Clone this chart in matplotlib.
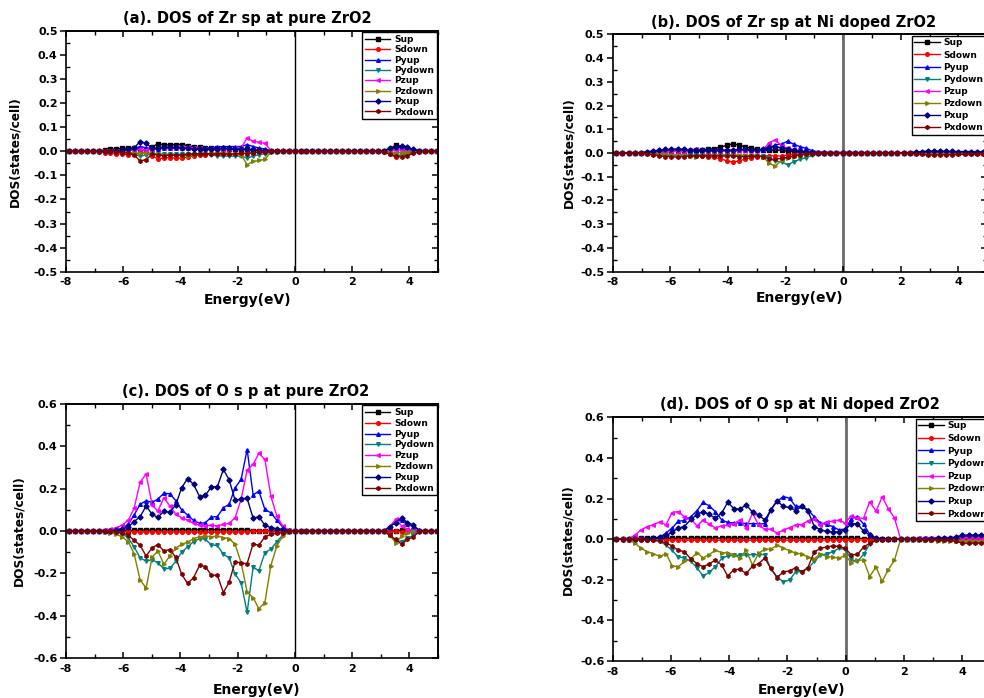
import matplotlib
matplotlib.use("Agg")
import matplotlib.pyplot as plt
from matplotlib.ticker import MultipleLocator, FormatStrFormatter

plt.rcParams['font.family'] = ['DejaVu Sans']
plt.rcParams['font.weight'] = 'bold'
plt.rcParams['axes.unicode_minus'] = False

# ---------------- energy grids (eV) ----------------
energy_pure = [-7.90, -7.69, -7.48, -7.28, -7.07, -6.86, -6.65, -6.45, -6.24, -6.03,
               -5.82, -5.62, -5.41, -5.20, -4.99, -4.79, -4.58, -4.37, -4.16, -3.96,
               -3.75, -3.54, -3.33, -3.13, -2.92, -2.71, -2.50, -2.30, -2.09, -1.88,
               -1.67, -1.46, -1.26, -1.05, -0.84, -0.63, -0.43, -0.22, -0.01, 0.20,
               0.40, 0.61, 0.82, 1.03, 1.23, 1.44, 1.65, 1.86, 2.06, 2.27,
               2.48, 2.69, 2.90, 3.10, 3.31, 3.52, 3.73, 3.93, 4.14, 4.35,
               4.56, 4.76, 4.97]
energy_doped = [-8.08, -7.87, -7.66, -7.44, -7.23, -7.02, -6.81, -6.60, -6.38, -6.17,
                -5.96, -5.75, -5.54, -5.32, -5.11, -4.90, -4.69, -4.48, -4.26, -4.05,
                -3.84, -3.63, -3.42, -3.20, -2.99, -2.78, -2.57, -2.36, -2.14, -1.93,
                -1.72, -1.51, -1.30, -1.08, -0.87, -0.66, -0.45, -0.24, -0.02, 0.19,
                0.40, 0.61, 0.82, 1.04, 1.25, 1.46, 1.67, 1.88, 2.10, 2.31,
                2.52, 2.73, 2.94, 3.16, 3.37, 3.58, 3.79, 4.00, 4.22, 4.43,
                4.64, 4.85, 5.06]

# ---------------- (a) Zr sp, pure ZrO2 ----------------
sup_a = [0, 0, 0, 0, 0, 0.002, 0.005, 0.008, 0.010, 0.012,
         0.014, 0.012, 0.008, 0.006, 0.020, 0.030, 0.028, 0.026, 0.028, 0.028,
         0.024, 0.018, 0.016, 0.014, 0.012, 0.012, 0.010, 0.010, 0.010, 0.008,
         0.008, 0.006, 0.004, 0.002, 0, 0, 0, 0, 0, 0,
         0, 0, 0, 0, 0, 0, 0, 0, 0, 0,
         0, 0, 0, 0.002, 0.010, 0.025, 0.015, 0.008, 0.003, 0,
         0, 0, 0]
sdown_a = [0, 0, 0, 0, 0, -0.002, -0.005, -0.008, -0.010, -0.012,
           -0.014, -0.012, -0.008, -0.006, -0.020, -0.030, -0.028, -0.026, -0.028, -0.028,
           -0.024, -0.018, -0.016, -0.014, -0.012, -0.012, -0.010, -0.010, -0.010, -0.008,
           -0.008, -0.006, -0.004, -0.002, 0, 0, 0, 0, 0, 0,
           0, 0, 0, 0, 0, 0, 0, 0, 0, 0,
           0, 0, 0, -0.002, -0.010, -0.025, -0.015, -0.008, -0.003, 0,
           0, 0, 0]
pyup_a = [0, 0, 0, 0, 0, 0, 0, 0, 0.002, 0.004,
          0.008, 0.012, 0.020, 0.015, 0.008, 0.010, 0.012, 0.012, 0.012, 0.012,
          0.012, 0.012, 0.010, 0.012, 0.015, 0.018, 0.020, 0.020, 0.020, 0.020,
          0.028, 0.020, 0.014, 0.010, 0.003, 0.001, 0, 0, 0, 0,
          0, 0, 0, 0, 0, 0, 0, 0, 0, 0,
          0, 0, 0, 0.002, 0.008, 0.012, 0.018, 0.012, 0.006, 0.002,
          0, 0, 0]
pydown_a = [0, 0, 0, 0, 0, 0, 0, 0, -0.002, -0.004,
            -0.008, -0.012, -0.020, -0.015, -0.008, -0.010, -0.012, -0.012, -0.012, -0.012,
            -0.012, -0.012, -0.010, -0.012, -0.015, -0.018, -0.020, -0.020, -0.020, -0.020,
            -0.028, -0.020, -0.014, -0.010, -0.003, -0.001, 0, 0, 0, 0,
            0, 0, 0, 0, 0, 0, 0, 0, 0, 0,
            0, 0, 0, -0.002, -0.008, -0.012, -0.018, -0.012, -0.006, -0.002,
            0, 0, 0]
pzup_a = [0, 0, 0, 0, 0, 0, 0, 0, 0, 0.002,
          0.004, 0.006, 0.008, 0.006, 0.008, 0.012, 0.014, 0.014, 0.016, 0.018,
          0.018, 0.015, 0.012, 0.010, 0.008, 0.006, 0.006, 0.008, 0.012, 0.015,
          0.055, 0.042, 0.038, 0.033, 0.003, 0.001, 0, 0, 0, 0,
          0, 0, 0, 0, 0, 0, 0, 0, 0, 0,
          0, 0, 0, 0, 0.003, 0.006, 0.005, 0.002, 0, 0,
          0, 0, 0]
pzdown_a = [0, 0, 0, 0, 0, 0, 0, 0, 0, -0.002,
            -0.004, -0.006, -0.008, -0.006, -0.008, -0.012, -0.014, -0.014, -0.016, -0.018,
            -0.018, -0.015, -0.012, -0.010, -0.008, -0.006, -0.006, -0.008, -0.012, -0.015,
            -0.055, -0.042, -0.038, -0.033, -0.003, -0.001, 0, 0, 0, 0,
            0, 0, 0, 0, 0, 0, 0, 0, 0, 0,
            0, 0, 0, 0, -0.003, -0.006, -0.005, -0.002, 0, 0,
            0, 0, 0]
pxup_a = [0, 0, 0, 0, 0, 0, 0, 0, 0.002, 0.005,
          0.008, 0.015, 0.040, 0.034, 0.012, 0.015, 0.018, 0.016, 0.016, 0.015,
          0.012, 0.010, 0.010, 0.010, 0.010, 0.010, 0.012, 0.012, 0.010, 0.008,
          0.010, 0.006, 0.004, 0.002, 0, 0, 0, 0, 0, 0,
          0, 0, 0, 0, 0, 0, 0, 0, 0, 0,
          0, 0, 0, 0.003, 0.012, 0.020, 0.024, 0.018, 0.008, 0.002,
          0, 0, 0]
pxdown_a = [0, 0, 0, 0, 0, 0, 0, 0, -0.002, -0.005,
            -0.008, -0.015, -0.040, -0.034, -0.012, -0.015, -0.018, -0.016, -0.016, -0.015,
            -0.012, -0.010, -0.010, -0.010, -0.010, -0.010, -0.012, -0.012, -0.010, -0.008,
            -0.010, -0.006, -0.004, -0.002, 0, 0, 0, 0, 0, 0,
            0, 0, 0, 0, 0, 0, 0, 0, 0, 0,
            0, 0, 0, -0.003, -0.012, -0.020, -0.024, -0.018, -0.008, -0.002,
            0, 0, 0]

# ---------------- (b) Zr sp, Ni doped ZrO2 ----------------
sup_b = [0, 0, 0, 0, 0, 0, 0, 0.003, 0.005, 0.006,
         0.008, 0.010, 0.010, 0.010, 0.012, 0.013, 0.015, 0.018, 0.025, 0.032,
         0.038, 0.034, 0.026, 0.020, 0.015, 0.012, 0.012, 0.013, 0.012, 0.008,
         0.006, 0.004, 0.003, 0.002, 0, 0, 0, 0, 0, 0,
         0, 0, 0, 0, 0, 0, 0, 0, 0, 0,
         0, 0, 0.002, 0.002, 0.002, 0.002, 0.002, 0.002, 0.002, 0.002,
         0.002, 0, 0]
sdown_b = [0, 0, 0, 0, 0, 0, 0, -0.003, -0.005, -0.006,
           -0.008, -0.010, -0.010, -0.010, -0.012, -0.013, -0.015, -0.018, -0.025, -0.032,
           -0.038, -0.034, -0.026, -0.020, -0.015, -0.012, -0.012, -0.013, -0.012, -0.008,
           -0.006, -0.004, -0.003, -0.002, 0, 0, 0, 0, 0, 0,
           0, 0, 0, 0, 0, 0, 0, 0, 0, 0,
           0, 0, -0.002, -0.002, -0.002, -0.002, -0.002, -0.002, -0.002, -0.002,
           -0.002, 0, 0]
pyup_b = [0, 0, 0, 0, 0, 0, 0.003, 0.005, 0.008, 0.010,
          0.012, 0.012, 0.010, 0.010, 0.008, 0.008, 0.008, 0.008, 0.008, 0.010,
          0.010, 0.012, 0.012, 0.012, 0.012, 0.012, 0.020, 0.035, 0.037, 0.050,
          0.037, 0.027, 0.020, 0.010, 0.005, 0.003, 0.002, 0.002, 0.003, 0.003,
          0.002, 0.001, 0, 0, 0, 0, 0, 0, 0, 0,
          0.001, 0.002, 0.003, 0.003, 0.003, 0.003, 0.003, 0.003, 0.003, 0.003,
          0.003, 0.003, 0.003]
pydown_b = [0, 0, 0, 0, 0, 0, -0.003, -0.005, -0.008, -0.010,
            -0.012, -0.012, -0.010, -0.010, -0.008, -0.008, -0.008, -0.008, -0.008, -0.010,
            -0.010, -0.012, -0.012, -0.012, -0.012, -0.012, -0.020, -0.035, -0.037, -0.050,
            -0.037, -0.027, -0.020, -0.010, -0.005, -0.003, -0.002, -0.002, -0.003, -0.003,
            -0.002, -0.001, 0, 0, 0, 0, 0, 0, 0, 0,
            -0.001, -0.002, -0.003, -0.003, -0.003, -0.003, -0.003, -0.003, -0.003, -0.003,
            -0.003, -0.003, -0.003]
pzup_b = [0, 0, 0, 0, 0, 0, 0, 0, 0.003, 0.005,
          0.008, 0.008, 0.008, 0.012, 0.017, 0.010, 0.008, 0.007, 0.007, 0.008,
          0.008, 0.008, 0.010, 0.010, 0.008, 0.015, 0.044, 0.055, 0.030, 0.020,
          0.015, 0.010, 0.005, 0.003, 0.002, 0, 0, 0, 0, 0,
          0, 0, 0, 0, 0, 0, 0, 0, 0, 0,
          0.002, 0.002, 0.002, 0.002, 0.002, 0.002, 0.002, 0.002, 0.002, 0.002,
          0.002, 0.002, 0.002]
pzdown_b = [0, 0, 0, 0, 0, 0, 0, 0, -0.003, -0.005,
            -0.008, -0.008, -0.008, -0.012, -0.017, -0.010, -0.008, -0.007, -0.007, -0.008,
            -0.008, -0.008, -0.010, -0.010, -0.008, -0.015, -0.044, -0.055, -0.030, -0.020,
            -0.015, -0.010, -0.005, -0.003, -0.002, 0, 0, 0, 0, 0,
            0, 0, 0, 0, 0, 0, 0, 0, 0, 0,
            -0.002, -0.002, -0.002, -0.002, -0.002, -0.002, -0.002, -0.002, -0.002, -0.002,
            -0.002, -0.002, -0.002]
pxup_b = [0, 0, 0, 0, 0, 0.002, 0.005, 0.008, 0.012, 0.015,
          0.015, 0.018, 0.015, 0.012, 0.012, 0.012, 0.012, 0.012, 0.014, 0.012,
          0.012, 0.015, 0.015, 0.014, 0.014, 0.015, 0.025, 0.027, 0.022, 0.018,
          0.012, 0.008, 0.005, 0.003, 0.002, 0, 0, 0, 0, 0,
          0, 0, 0, 0, 0, 0, 0, 0, 0, 0.002,
          0.004, 0.006, 0.008, 0.008, 0.008, 0.007, 0.007, 0.006, 0.006, 0.006,
          0.005, 0.005, 0.005]
pxdown_b = [0, 0, 0, 0, 0, -0.002, -0.005, -0.008, -0.012, -0.015,
            -0.015, -0.018, -0.015, -0.012, -0.012, -0.012, -0.012, -0.012, -0.014, -0.012,
            -0.012, -0.015, -0.015, -0.014, -0.014, -0.015, -0.025, -0.027, -0.022, -0.018,
            -0.012, -0.008, -0.005, -0.003, -0.002, 0, 0, 0, 0, 0,
            0, 0, 0, 0, 0, 0, 0, 0, 0, -0.002,
            -0.004, -0.006, -0.008, -0.008, -0.008, -0.007, -0.007, -0.006, -0.006, -0.006,
            -0.005, -0.005, -0.005]

# ---------------- (c) O sp, pure ZrO2 ----------------
sup_c = [0, 0, 0, 0, 0, 0, 0, 0, 0, 0.001,
         0.002, 0.003, 0.004, 0.004, 0.004, 0.004, 0.005, 0.005, 0.005, 0.005,
         0.005, 0.005, 0.006, 0.006, 0.006, 0.006, 0.005, 0.005, 0.005, 0.005,
         0.004, 0.002, 0.001, 0, 0, 0, 0, 0, 0, 0,
         0, 0, 0, 0, 0, 0, 0, 0, 0, 0,
         0, 0, 0, 0, 0, 0.002, 0.003, 0.001, 0, 0,
         0, 0, 0]
sdown_c = [0, 0, 0, 0, 0, 0, 0, 0, 0, -0.001,
           -0.002, -0.003, -0.004, -0.004, -0.004, -0.004, -0.005, -0.005, -0.005, -0.005,
           -0.005, -0.005, -0.006, -0.006, -0.006, -0.006, -0.005, -0.005, -0.005, -0.005,
           -0.004, -0.002, -0.001, 0, 0, 0, 0, 0, 0, 0,
           0, 0, 0, 0, 0, 0, 0, 0, 0, 0,
           0, 0, 0, 0, 0, -0.002, -0.003, -0.001, 0, 0,
           0, 0, 0]
pyup_c = [0, 0, 0, 0, 0, 0, 0, 0.003, 0.006, 0.013,
          0.033, 0.075, 0.126, 0.143, 0.135, 0.151, 0.178, 0.176, 0.143, 0.100,
          0.075, 0.050, 0.036, 0.039, 0.066, 0.068, 0.110, 0.126, 0.204, 0.244,
          0.385, 0.170, 0.189, 0.102, 0.086, 0.050, 0.020, 0.004, 0, 0,
          0, 0, 0, 0, 0, 0, 0, 0, 0, 0,
          0, 0, 0, 0, 0.018, 0.045, 0.050, 0.035, 0.020, 0.003,
          0, 0, 0]
pydown_c = [0, 0, 0, 0, 0, 0, 0, -0.003, -0.006, -0.013,
            -0.033, -0.075, -0.126, -0.143, -0.135, -0.151, -0.178, -0.176, -0.143, -0.100,
            -0.075, -0.050, -0.036, -0.039, -0.066, -0.068, -0.110, -0.126, -0.204, -0.244,
            -0.385, -0.170, -0.189, -0.102, -0.086, -0.050, -0.020, -0.004, 0, 0,
            0, 0, 0, 0, 0, 0, 0, 0, 0, 0,
            0, 0, 0, 0, -0.018, -0.045, -0.050, -0.035, -0.020, -0.003,
            0, 0, 0]
pzup_c = [0, 0, 0, 0, 0, 0.002, 0.005, 0.008, 0.016, 0.028,
          0.052, 0.107, 0.231, 0.269, 0.123, 0.094, 0.157, 0.118, 0.080, 0.063,
          0.052, 0.036, 0.027, 0.024, 0.027, 0.024, 0.031, 0.036, 0.063, 0.150,
          0.288, 0.315, 0.367, 0.338, 0.163, 0.070, 0.025, 0.004, 0, 0,
          0, 0, 0, 0, 0, 0, 0, 0, 0, 0,
          0, 0, 0, 0, 0.020, 0.055, 0.025, 0.008, 0.002, 0,
          0, 0, 0]
pzdown_c = [0, 0, 0, 0, 0, -0.002, -0.005, -0.008, -0.016, -0.028,
            -0.052, -0.107, -0.231, -0.269, -0.123, -0.094, -0.157, -0.118, -0.080, -0.063,
            -0.052, -0.036, -0.027, -0.024, -0.027, -0.024, -0.031, -0.036, -0.063, -0.150,
            -0.288, -0.315, -0.367, -0.338, -0.163, -0.070, -0.025, -0.004, 0, 0,
            0, 0, 0, 0, 0, 0, 0, 0, 0, 0,
            0, 0, 0, 0, -0.020, -0.055, -0.025, -0.008, -0.002, 0,
            0, 0, 0]
pxup_c = [0, 0, 0, 0, 0, 0, 0, 0, 0.003, 0.008,
          0.020, 0.044, 0.068, 0.118, 0.079, 0.064, 0.094, 0.088, 0.125, 0.204,
          0.248, 0.220, 0.162, 0.168, 0.209, 0.209, 0.291, 0.242, 0.145, 0.152,
          0.154, 0.060, 0.068, 0.027, 0.016, 0.011, 0.008, 0.002, 0, 0,
          0, 0, 0, 0, 0, 0, 0, 0, 0, 0,
          0, 0, 0, 0, 0.020, 0.040, 0.063, 0.040, 0.028, 0.002,
          0, 0, 0]
pxdown_c = [0, 0, 0, 0, 0, 0, 0, 0, -0.003, -0.008,
            -0.020, -0.044, -0.068, -0.118, -0.079, -0.064, -0.094, -0.088, -0.125, -0.204,
            -0.248, -0.220, -0.162, -0.168, -0.209, -0.209, -0.291, -0.242, -0.145, -0.152,
            -0.154, -0.060, -0.068, -0.027, -0.016, -0.011, -0.008, -0.002, 0, 0,
            0, 0, 0, 0, 0, 0, 0, 0, 0, 0,
            0, 0, 0, 0, -0.020, -0.040, -0.063, -0.040, -0.028, -0.002,
            0, 0, 0]

# ---------------- (d) O sp, Ni doped ZrO2 ----------------
sup_d = [0, 0, 0.002, 0.003, 0.004, 0.004, 0.004, 0.004, 0.004, 0.004,
         0.004, 0.004, 0.004, 0.005, 0.005, 0.005, 0.005, 0.005, 0.005, 0.005,
         0.005, 0.005, 0.005, 0.005, 0.005, 0.005, 0.005, 0.005, 0.005, 0.005,
         0.005, 0.005, 0.005, 0.004, 0.004, 0.004, 0.004, 0.004, 0.004, 0.004,
         0.004, 0.003, 0.002, 0.001, 0, 0, 0, 0, 0, 0,
         0, 0, 0, 0, 0, 0, 0, 0, 0, 0,
         0, 0, 0]
sdown_d = [0, 0, -0.002, -0.003, -0.004, -0.004, -0.004, -0.004, -0.004, -0.004,
           -0.004, -0.004, -0.004, -0.005, -0.005, -0.005, -0.005, -0.005, -0.005, -0.005,
           -0.005, -0.005, -0.005, -0.005, -0.005, -0.005, -0.005, -0.005, -0.005, -0.005,
           -0.005, -0.005, -0.005, -0.004, -0.004, -0.004, -0.004, -0.004, -0.004, -0.004,
           -0.004, -0.003, -0.002, -0.001, 0, 0, 0, 0, 0, 0,
           0, 0, 0, 0, 0, 0, 0, 0, 0, 0,
           0, 0, 0]
pyup_d = [0, 0, 0, 0, 0, 0, 0.002, 0.005, 0.010, 0.030,
          0.055, 0.088, 0.092, 0.110, 0.140, 0.181, 0.164, 0.136, 0.095, 0.082,
          0.080, 0.080, 0.077, 0.076, 0.076, 0.076, 0.146, 0.186, 0.210, 0.201,
          0.161, 0.161, 0.145, 0.110, 0.079, 0.073, 0.062, 0.046, 0.050, 0.100,
          0.110, 0.075, 0.025, 0.005, 0.003, 0.002, 0.001, 0.001, 0.001, 0.002,
          0.003, 0.004, 0.005, 0.005, 0.006, 0.006, 0.008, 0.012, 0.015, 0.015,
          0.015, 0.015, 0.015]
pydown_d = [0, 0, 0, 0, 0, 0, -0.002, -0.005, -0.010, -0.030,
            -0.055, -0.088, -0.092, -0.110, -0.140, -0.181, -0.164, -0.136, -0.095, -0.082,
            -0.080, -0.080, -0.077, -0.076, -0.076, -0.076, -0.146, -0.186, -0.210, -0.201,
            -0.161, -0.161, -0.145, -0.110, -0.079, -0.073, -0.062, -0.046, -0.050, -0.100,
            -0.110, -0.075, -0.025, -0.005, -0.003, -0.002, -0.001, -0.001, -0.001, -0.002,
            -0.003, -0.004, -0.005, -0.005, -0.006, -0.006, -0.008, -0.012, -0.015, -0.015,
            -0.015, -0.015, -0.015]
pzup_d = [0, 0, 0, 0.003, 0.021, 0.046, 0.062, 0.072, 0.085, 0.071,
          0.131, 0.136, 0.110, 0.099, 0.066, 0.092, 0.076, 0.055, 0.066, 0.068,
          0.076, 0.095, 0.054, 0.128, 0.069, 0.049, 0.049, 0.030, 0.044, 0.057,
          0.070, 0.072, 0.090, 0.097, 0.072, 0.086, 0.088, 0.094, 0.080, 0.115,
          0.105, 0.102, 0.184, 0.138, 0.208, 0.150, 0.105, 0.003, 0.002, 0.003,
          0.004, 0.005, 0.006, 0.008, 0.008, 0.008, 0.009, 0.008, 0.008, 0.008,
          0.008, 0.008, 0.008]
pzdown_d = [0, 0, 0, -0.003, -0.021, -0.046, -0.062, -0.072, -0.085, -0.071,
            -0.131, -0.136, -0.110, -0.099, -0.066, -0.092, -0.076, -0.055, -0.066, -0.068,
            -0.076, -0.095, -0.054, -0.128, -0.069, -0.049, -0.049, -0.030, -0.044, -0.057,
            -0.070, -0.072, -0.090, -0.097, -0.072, -0.086, -0.088, -0.094, -0.080, -0.115,
            -0.105, -0.102, -0.184, -0.138, -0.208, -0.150, -0.105, -0.003, -0.002, -0.003,
            -0.004, -0.005, -0.006, -0.008, -0.008, -0.008, -0.009, -0.008, -0.008, -0.008,
            -0.008, -0.008, -0.008]
pxup_d = [0, 0, 0, 0, 0, 0, 0.002, 0.005, 0.010, 0.018,
          0.034, 0.054, 0.062, 0.097, 0.120, 0.136, 0.122, 0.103, 0.128, 0.182,
          0.150, 0.148, 0.169, 0.133, 0.120, 0.094, 0.144, 0.189, 0.161, 0.156,
          0.141, 0.161, 0.140, 0.062, 0.046, 0.038, 0.034, 0.036, 0.045, 0.077,
          0.075, 0.040, 0.020, 0.004, 0.002, 0.001, 0, 0, 0, 0,
          0.001, 0.002, 0.003, 0.004, 0.005, 0.006, 0.010, 0.020, 0.020, 0.020,
          0.020, 0.020, 0.020]
pxdown_d = [0, 0, 0, 0, 0, 0, -0.002, -0.005, -0.010, -0.018,
            -0.034, -0.054, -0.062, -0.097, -0.120, -0.136, -0.122, -0.103, -0.128, -0.182,
            -0.150, -0.148, -0.169, -0.133, -0.120, -0.094, -0.144, -0.189, -0.161, -0.156,
            -0.141, -0.161, -0.140, -0.062, -0.046, -0.038, -0.034, -0.036, -0.045, -0.077,
            -0.075, -0.040, -0.020, -0.004, -0.002, -0.001, 0, 0, 0, 0,
            -0.001, -0.002, -0.003, -0.004, -0.005, -0.006, -0.010, -0.020, -0.020, -0.020,
            -0.020, -0.020, -0.020]

series_names = ["Sup", "Sdown", "Pyup", "Pydown", "Pzup", "Pzdown", "Pxup", "Pxdown"]
series_colors = ["#000000", "#FF0000", "#0000FF", "#008080",
                 "#FF00FF", "#808000", "#000080", "#800000"]
series_markers = ["s", "o", "^", "v", "<", ">", "D", "h"]

titles = ["(a). DOS of Zr sp at pure ZrO2",
          "(b). DOS of Zr sp at Ni doped ZrO2",
          "(c). DOS of O s p at pure ZrO2",
          "(d). DOS of O sp at Ni doped ZrO2"]

W, H = 984.0, 698.0
fig = plt.figure(figsize=(W / 100, H / 100), dpi=100)

panels = [
    dict(rect=(66, 31, 438, 271.7), energy=energy_pure,
         data=[sup_a, sdown_a, pyup_a, pydown_a, pzup_a, pzdown_a, pxup_a, pxdown_a],
         ylim=(-0.5, 0.5), major=0.1, minor=0.05, vcol="#000000", vlw=1.0,
         ylab=(-0.121, 0.5), xlab=(0.487, -0.090), tx=0.487, lsp=0.15),
    dict(rect=(612.7, 34.3, 987.3, 271.7), energy=energy_doped,
         data=[sup_b, sdown_b, pyup_b, pydown_b, pzup_b, pzdown_b, pxup_b, pxdown_b],
         ylim=(-0.5, 0.5), major=0.1, minor=0.05, vcol="#6a6a6a", vlw=2.0,
         ylab=(-0.100, 0.5), xlab=(0.499, -0.080), tx=0.484, lsp=0.35),
    dict(rect=(66, 404, 438, 658), energy=energy_pure,
         data=[sup_c, sdown_c, pyup_c, pydown_c, pzup_c, pzdown_c, pxup_c, pxdown_c],
         ylim=(-0.6, 0.6), major=0.2, minor=0.1, vcol="#000000", vlw=1.0,
         ylab=(-0.108, 0.5), xlab=(0.513, -0.097), tx=0.484, lsp=0.2),
    dict(rect=(612.7, 417.3, 991.4, 661), energy=energy_doped,
         data=[sup_d, sdown_d, pyup_d, pydown_d, pzup_d, pzdown_d, pxup_d, pxdown_d],
         ylim=(-0.6, 0.6), major=0.2, minor=0.1, vcol="#6a6a6a", vlw=2.0,
         ylab=(-0.101, 0.5), xlab=(0.5, -0.092), tx=0.495, lsp=0.4),
]

for p, title in zip(panels, titles):
    x0, y0, x1, y1 = p["rect"]
    ax = fig.add_axes([x0 / W, 1 - y1 / H, (x1 - x0) / W, (y1 - y0) / H])
    ax.axvline(0, color=p["vcol"], lw=p["vlw"], zorder=1)
    for vals, name, col, mk in zip(p["data"], series_names, series_colors, series_markers):
        ax.plot(p["energy"], vals, color=col, marker=mk, markersize=2.6,
                lw=1.0, label=name, zorder=2)
    ax.set_xlim(-8, 5)
    ax.set_ylim(*p["ylim"])
    ax.xaxis.set_major_locator(MultipleLocator(2))
    ax.xaxis.set_minor_locator(MultipleLocator(1))
    ax.yaxis.set_major_locator(MultipleLocator(p["major"]))
    ax.yaxis.set_minor_locator(MultipleLocator(p["minor"]))
    ax.yaxis.set_major_formatter(FormatStrFormatter("%.1f"))
    ax.xaxis.set_major_formatter(FormatStrFormatter("%d"))
    for s in ax.spines.values():
        s.set_linewidth(1.2)
    ax.tick_params(axis="y", which="major", direction="out", length=4, width=1.1,
                   labelsize=8, pad=2, left=True, right=False)
    ax.tick_params(axis="y", which="minor", direction="in", length=3, width=1.0,
                   left=True, right=False)
    ax.tick_params(axis="x", which="major", direction="in", length=4, width=1.1,
                   labelsize=8, pad=4, bottom=True, top=False)
    ax.tick_params(axis="x", which="minor", direction="in", length=3, width=1.0,
                   bottom=True, top=False)
    # mirrored inward ticks on top and right
    axr = ax.secondary_yaxis("right")
    axr.yaxis.set_major_locator(MultipleLocator(p["major"]))
    axr.yaxis.set_minor_locator(MultipleLocator(p["minor"]))
    axr.tick_params(which="major", direction="in", length=4, width=1.1, labelright=False)
    axr.tick_params(which="minor", direction="in", length=3, width=1.0)
    axt = ax.secondary_xaxis("top")
    axt.xaxis.set_major_locator(MultipleLocator(2))
    axt.xaxis.set_minor_locator(MultipleLocator(1))
    axt.tick_params(which="major", direction="in", length=4, width=1.1, labeltop=False)
    axt.tick_params(which="minor", direction="in", length=3, width=1.0)
    for s in list(axr.spines.values()) + list(axt.spines.values()):
        s.set_linewidth(1.2)

    ax.set_ylabel("DOS(states/cell)", fontsize=8.7, fontweight="bold")
    ax.yaxis.set_label_coords(*p["ylab"])
    ax.set_xlabel("Energy(eV)", fontsize=10, fontweight="bold")
    ax.xaxis.set_label_coords(*p["xlab"])
    ax.text(p["tx"], 1.02, title, transform=ax.transAxes, ha="center", va="bottom",
            fontsize=10.5, fontweight="bold")

    leg = ax.legend(loc="upper right", fontsize=6.5, frameon=True, fancybox=False,
                    edgecolor="black", framealpha=1, borderpad=0.3,
                    labelspacing=p["lsp"], handlelength=2.8, handletextpad=0.4,
                    borderaxespad=0.15, numpoints=1)
    leg.get_frame().set_linewidth(1.0)
    for t in leg.get_texts():
        t.set_fontweight("bold")

fig.savefig("out.png", dpi=100)
